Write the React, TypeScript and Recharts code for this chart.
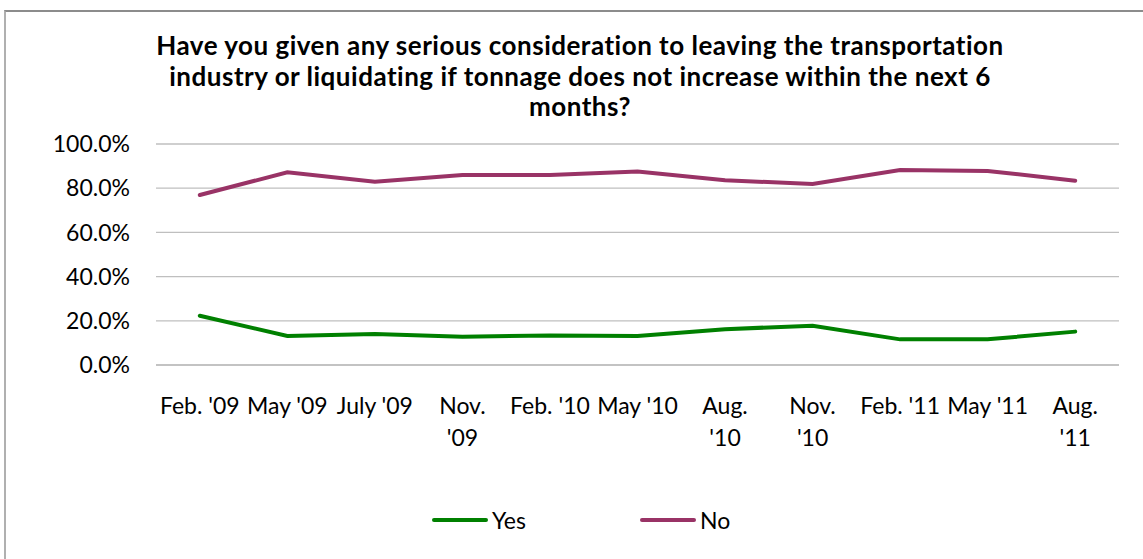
import { CartesianGrid, Legend, Line, LineChart, XAxis, YAxis } from 'recharts';

const TITLE_LINES = [
  'Have you given any serious consideration to leaving the transportation',
  'industry or liquidating if tonnage does not increase within the next 6',
  'months?',
];

// "\n" marks where a category label breaks onto a second line
const periods = [
  "Feb. '09",
  "May '09",
  "July '09",
  "Nov.\n'09",
  "Feb. '10",
  "May '10",
  "Aug.\n'10",
  "Nov.\n'10",
  "Feb. '11",
  "May '11",
  "Aug.\n'11",
];

const yesShare = [22.3, 13.1, 14.0, 12.8, 13.4, 13.1, 16.2, 17.8, 11.6, 11.6, 15.1];
const noShare = [76.9, 87.2, 82.9, 86.0, 86.0, 87.5, 83.6, 81.9, 88.2, 87.8, 83.4];

const yTicks = [0, 20, 40, 60, 80, 100];

const SERIES = [
  { key: 'yes', name: 'Yes', color: '#008000' },
  { key: 'no', name: 'No', color: '#993366' },
];

const data = periods.map((period, i) => ({ period, yes: yesShare[i], no: noShare[i] }));

const FONT = 'Lato, "Open Sans", sans-serif';
const LABEL_SIZE = 23;

function PeriodTick(props: any) {
  const { x, y, payload } = props;
  const lines = String(payload.value).split('\n');
  return (
    <text x={x} y={y} textAnchor="middle" fill="#000" fontSize={LABEL_SIZE} fontFamily={FONT}>
      {lines.map((line, i) => (
        <tspan key={i} x={x} y={y + 49 + i * 31.5}>
          {line}
        </tspan>
      ))}
    </text>
  );
}

function LegendRow() {
  return (
    <div
      style={{
        height: 78,
        display: 'flex',
        alignItems: 'center',
        paddingLeft: 432,
        fontFamily: FONT,
        fontSize: LABEL_SIZE,
        color: '#000',
      }}
    >
      {SERIES.map((s) => (
        <div key={s.key} style={{ display: 'flex', alignItems: 'center', width: 208 }}>
          <span
            style={{
              display: 'inline-block',
              width: 56,
              height: 4,
              borderRadius: 2,
              background: s.color,
              marginRight: 4,
            }}
          />
          <span>{s.name}</span>
        </div>
      ))}
    </div>
  );
}

export default function App() {
  return (
    <div
      style={{
        position: 'fixed',
        left: 0,
        top: 0,
        width: 1143,
        height: 559,
        overflow: 'hidden',
        background: '#fff',
      }}
    >
      <div
        style={{
          position: 'absolute',
          left: 4,
          top: 10,
          width: 1300,
          height: 700,
          borderLeft: '2px solid #b0b0b0',
          borderTop: '2px solid #8c8c8c',
        }}
      />
      <div
        style={{
          position: 'absolute',
          left: 0,
          top: 30,
          width: 1160,
          textAlign: 'center',
          fontFamily: FONT,
          fontWeight: 700,
          fontSize: 26,
          letterSpacing: 0.5,
          lineHeight: '30.5px',
          color: '#000',
        }}
      >
        {TITLE_LINES.map((line) => (
          <div key={line}>{line}</div>
        ))}
      </div>
      <div style={{ position: 'absolute', left: 0, top: 0 }}>
        <LineChart
          width={1143}
          height={559}
          data={data}
          margin={{ top: 144, right: 24, bottom: 0, left: 0 }}
          style={{ fontFamily: FONT }}
        >
          <CartesianGrid vertical={false} stroke="#bfbfbf" strokeWidth={1.3} />
          <XAxis
            dataKey="period"
            height={116}
            padding={{ left: 43.8, right: 43.8 }}
            axisLine={{ stroke: '#bfbfbf', strokeWidth: 1.3 }}
            tickLine={false}
            tickSize={0}
            tickMargin={0}
            interval={0}
            tick={<PeriodTick />}
          />
          <YAxis
            width={156}
            domain={[0, 100]}
            ticks={yTicks}
            axisLine={false}
            tickLine={false}
            tickSize={0}
            tickMargin={26}
            tickFormatter={(v: number) => `${v.toFixed(1)}%`}
            tick={{ fontSize: LABEL_SIZE, fill: '#000', fontFamily: FONT }}
          />
          {SERIES.map((s) => (
            <Line
              key={s.key}
              type="linear"
              dataKey={s.key}
              name={s.name}
              stroke={s.color}
              strokeWidth={4}
              strokeLinecap="round"
              dot={false}
              activeDot={false}
              isAnimationActive={false}
            />
          ))}
          <Legend verticalAlign="bottom" content={<LegendRow />} />
        </LineChart>
      </div>
    </div>
  );
}
